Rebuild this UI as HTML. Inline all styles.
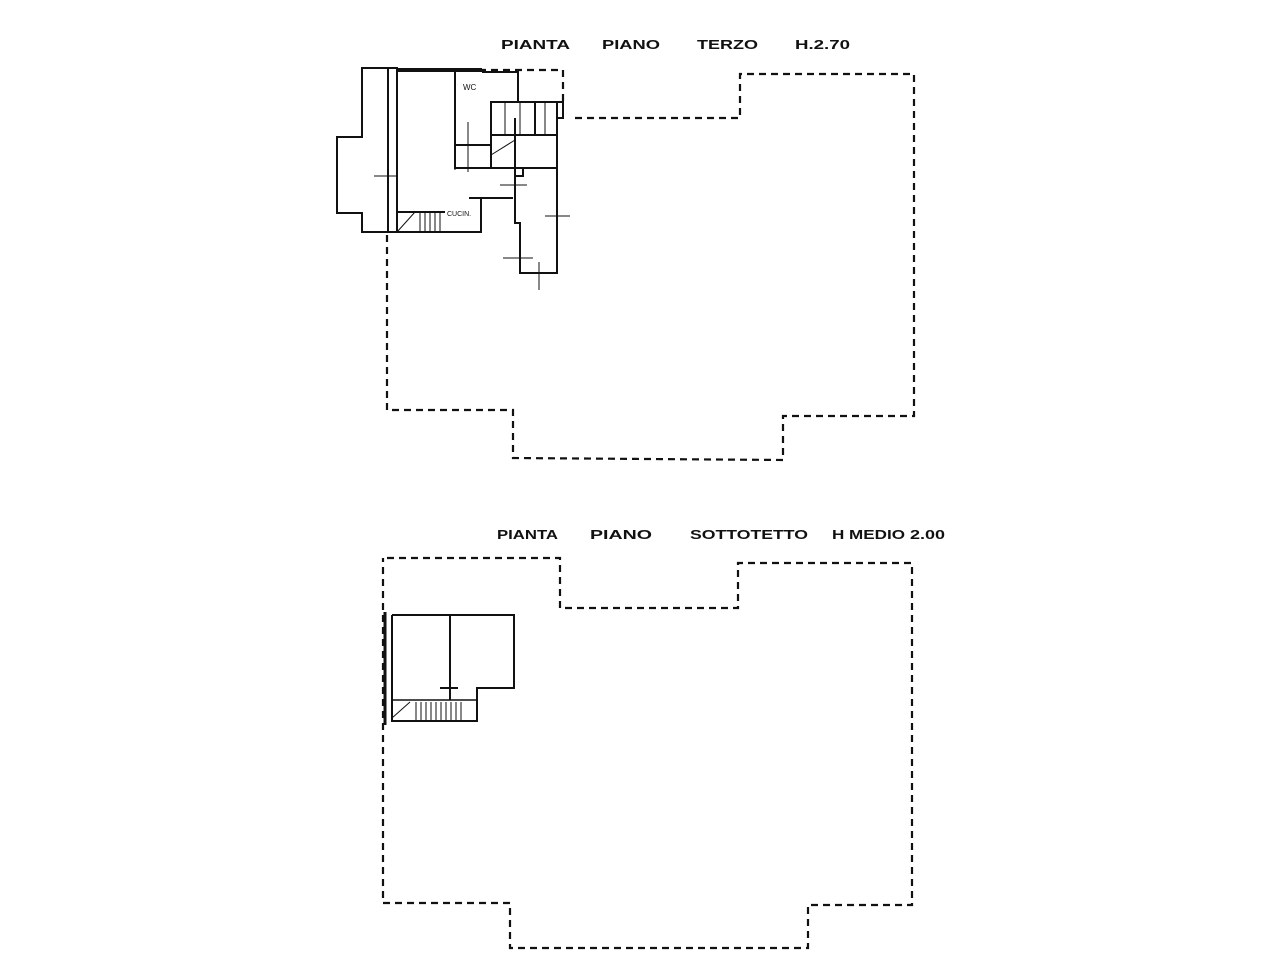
<!DOCTYPE html>
<html><head><style>body{margin:0;background:#fff}svg{display:block}</style></head>
<body>
<svg width="1280" height="960" viewBox="0 0 1280 960" xmlns="http://www.w3.org/2000/svg">
<rect width="1280" height="960" fill="#fff"/>
<g font-family="Liberation Sans, sans-serif" font-size="13" font-weight="bold" fill="#111">
<text x="501" y="49" textLength="69" lengthAdjust="spacingAndGlyphs">PIANTA</text>
<text x="602" y="49" textLength="58" lengthAdjust="spacingAndGlyphs">PIANO</text>
<text x="697" y="49" textLength="61" lengthAdjust="spacingAndGlyphs">TERZO</text>
<text x="795" y="49" textLength="55" lengthAdjust="spacingAndGlyphs">H.2.70</text>
<text x="497" y="539" textLength="61" lengthAdjust="spacingAndGlyphs">PIANTA</text>
<text x="590" y="539" textLength="62" lengthAdjust="spacingAndGlyphs">PIANO</text>
<text x="690" y="539" textLength="118" lengthAdjust="spacingAndGlyphs">SOTTOTETTO</text>
<text x="832" y="539" textLength="73" lengthAdjust="spacingAndGlyphs">H MEDIO</text>
<text x="910" y="539" textLength="35" lengthAdjust="spacingAndGlyphs">2.00</text>
<text x="463" y="90" font-size="8" font-weight="normal">WC</text>
<text x="447" y="216" font-size="7" font-weight="normal">CUCIN.</text>
</g>
<g fill="none" stroke="#111" stroke-width="2.2" stroke-dasharray="7,5">
<polyline points="387,235 387,410 513,410 513,458 783,460 783,416 914,416 914,74 740,74 740,118 570,118"/>
<polyline points="455,70 563,70 563,105"/>
<polyline points="387,558 560,558 560,608 738,608 738,563 912,563 912,905 808,905 808,948 510,948 510,903 383,903 383,558"/>
</g>
<g fill="none" stroke="#111" stroke-width="2">
<polyline points="388,68 362,68 362,137 337,137 337,213 362,213 362,232 388,232"/>
<rect x="388" y="68" width="9" height="164"/>
<line x1="397" y1="70" x2="482" y2="70" stroke-width="4"/>
<line x1="397" y1="78" x2="397" y2="232"/>
<polyline points="455,72 455,168 491,168"/>
<polyline points="482,72 518,72 518,102"/>
<rect x="491" y="102" width="66" height="66"/>
<line x1="491" y1="135" x2="557" y2="135"/>
<line x1="515" y1="118" x2="515" y2="168"/>
<line x1="535" y1="102" x2="535" y2="135"/>
<rect x="557" y="102" width="6" height="16"/>
<polyline points="491,168 515,168 515,223 520,223 520,273 557,273 557,118"/>
<rect x="515" y="168" width="8" height="8"/>
<polyline points="469,198 513,198"/>
<polyline points="397,232 481,232 481,198"/>
<line x1="397" y1="212" x2="445" y2="212"/>
<line x1="455" y1="145" x2="491" y2="145"/>
<line x1="455" y1="118" x2="455" y2="170" stroke-width="1"/>
<line x1="374" y1="176" x2="398" y2="176" stroke-width="1"/>
<line x1="500" y1="185" x2="527" y2="185" stroke-width="1"/>
<line x1="545" y1="216" x2="570" y2="216" stroke-width="1"/>
<line x1="503" y1="258" x2="533" y2="258" stroke-width="1"/>
<line x1="539" y1="262" x2="539" y2="290" stroke-width="1"/>
<line x1="468" y1="122" x2="468" y2="172" stroke-width="1"/>
<g stroke-width="1">
<line x1="420" y1="212" x2="420" y2="232"/><line x1="425" y1="212" x2="425" y2="232"/><line x1="430" y1="212" x2="430" y2="232"/><line x1="435" y1="212" x2="435" y2="232"/><line x1="440" y1="212" x2="440" y2="232"/>
<line x1="397" y1="232" x2="415" y2="212"/>
<line x1="505" y1="102" x2="505" y2="135"/><line x1="520" y1="102" x2="520" y2="135"/><line x1="545" y1="102" x2="545" y2="135"/>
<line x1="491" y1="155" x2="515" y2="140"/>
</g>
<line x1="385" y1="612" x2="385" y2="725" stroke-width="3"/>
<polyline points="392,615 514,615 514,688 477,688 477,721 392,721 392,615"/>
<line x1="450" y1="615" x2="450" y2="700"/>
<line x1="440" y1="688" x2="458" y2="688"/>
<line x1="392" y1="700" x2="477" y2="700" stroke-width="1.5"/>
<g stroke-width="1">
<line x1="392" y1="718" x2="410" y2="702"/>
<line x1="416" y1="702" x2="416" y2="721"/><line x1="421" y1="702" x2="421" y2="721"/><line x1="426" y1="702" x2="426" y2="721"/><line x1="431" y1="702" x2="431" y2="721"/><line x1="436" y1="702" x2="436" y2="721"/><line x1="441" y1="702" x2="441" y2="721"/><line x1="446" y1="702" x2="446" y2="721"/><line x1="451" y1="702" x2="451" y2="721"/><line x1="456" y1="702" x2="456" y2="721"/><line x1="461" y1="702" x2="461" y2="721"/>
</g>
</g>
</svg>
</body></html>
